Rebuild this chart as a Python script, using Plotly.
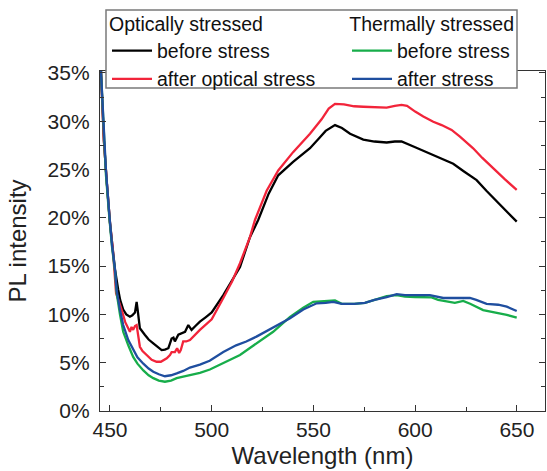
import plotly.graph_objects as go

# ---- data (wavelength in nm, PL intensity in %) ----
wl_black = [445.5, 447, 448.5, 450, 451.5, 452.5, 454, 455, 456.5, 458, 459.8, 461, 462.3, 463.1, 463.6, 464.1,
            464.7, 467.2, 469, 471.3, 473.5, 475.4, 477, 478.7, 479.5, 480.3, 481.2, 481.9, 483.6, 485, 486.9,
            488.5, 490.1, 492, 494.2, 497, 500, 505.7, 510, 513.9, 518.8, 522.9, 528, 532.7, 540, 548.3, 553,
            556, 560.6, 564, 568, 574.5, 580, 586, 590, 593.3, 600, 608.9, 613, 618.7, 624, 630.2, 635, 640,
            645, 649.9]
pl_black = [35.5, 28, 23.5, 19.5, 16.5, 14.6, 12.6, 11.5, 10.5, 10.0, 9.76, 9.9, 10.2, 11.3, 10.5, 9.6,
            8.56, 7.87, 7.4, 7.0, 6.6, 6.3, 6.35, 6.5, 7.0, 7.5, 7.6, 7.2, 7.9, 8.0, 8.2,
            8.9, 8.4, 8.8, 9.25, 9.7, 10.2, 12.0, 13.6, 14.9, 18.0, 19.8, 22.5, 24.4, 25.8, 27.2, 28.3,
            29.0, 29.6, 29.3, 28.7, 28.1, 27.9, 27.8, 27.9, 27.9, 27.3, 26.5, 26.1, 25.6, 24.8, 23.9, 22.8, 21.7,
            20.7, 19.6]

wl_red = [445.5, 447, 448.5, 450, 451.5, 453, 455.7, 457.5, 459.8, 460.6, 461.4, 462.3, 463.1, 463.9, 464.7,
          466, 468, 470.5, 472.9, 475, 477.9, 479.5, 480.3, 481.9, 483, 484, 484.8, 486, 487.5, 489.3, 494.2,
          500, 505.7, 510, 513.9, 518.8, 521.3, 527, 532.7, 540, 548.3, 554, 557.5, 560.6, 565, 570, 574.5,
          580, 586, 590, 593.3, 596, 600, 604, 608.9, 613, 617.9, 622, 628.5, 633, 638.4, 644, 649.9]
pl_red = [35.5, 28, 23.5, 19.5, 16.5, 12.2, 10.5, 9.2, 8.2, 8.7, 8.4, 8.8, 8.9, 7.7, 6.65,
          6.2, 5.8, 5.3, 5.1, 5.1, 5.45, 5.8, 6.1, 6.1, 6.5, 6.0, 6.3, 7.2, 7.2, 7.35, 8.4,
          9.5, 11.7, 13.4, 15.3, 18.0, 19.8, 22.8, 24.9, 26.8, 28.7, 30.2, 31.3, 31.8, 31.75, 31.55, 31.5,
          31.45, 31.4, 31.6, 31.7, 31.6, 31.0, 30.5, 29.95, 29.6, 29.1, 28.4, 27.2, 26.2, 25.1, 24.0, 22.9]

wl_green = [445.5, 446.5, 448, 449.7, 451, 452.5, 453.3, 454.9, 456.5, 459, 461.4, 463.5, 466.4, 469, 471.3,
            474, 477, 480, 482.8, 486, 489.3, 494.2, 499.1, 505, 513.9, 520, 525, 530.2, 538.5, 545, 549.9,
            555, 560.6, 563.9, 570, 575.3, 580, 586, 590.9, 595, 599.9, 608.1, 611.3, 615, 619.5, 623.6, 627,
            633.4, 640, 645, 649.9]
pl_green = [35.5, 30.5, 24.5, 20.0, 17.0, 14.4, 12.2, 10.0, 8.2, 6.8, 5.6, 4.9, 4.2, 3.7, 3.4,
            3.15, 3.03, 3.15, 3.4, 3.55, 3.7, 3.95, 4.3, 4.9, 5.8, 6.7, 7.4, 8.2, 9.75, 10.7, 11.3,
            11.4, 11.45, 11.1, 11.1, 11.2, 11.5, 11.9, 12.0, 11.85, 11.8, 11.77, 11.5, 11.35, 11.2, 11.4, 11.1,
            10.45, 10.2, 9.95, 9.66]

wl_blue = [445.5, 446.5, 448, 449.7, 451, 452.5, 453.3, 454.9, 456.5, 459, 461.4, 463.5, 466.4, 469, 471.3,
           474, 477, 480, 482.8, 486, 489.3, 494.2, 499, 505.7, 512, 517, 522, 530, 538.5, 545, 551.6,
           556, 559.7, 563.9, 570, 575.3, 580, 586, 590.9, 595, 600, 607.2, 613.8, 618, 622, 626.9, 630,
           635.1, 640.8, 645, 649.9]
pl_blue = [35.5, 31, 25, 20.3, 17.2, 14.6, 12.5, 10.5, 8.9, 7.35, 6.3, 5.55, 4.9, 4.4, 4.07,
           3.8, 3.6, 3.7, 3.9, 4.15, 4.5, 4.8, 5.2, 6.1, 6.8, 7.2, 7.7, 8.6, 9.6, 10.5, 11.15,
           11.2, 11.3, 11.1, 11.1, 11.2, 11.5, 11.8, 12.1, 12.0, 12.0, 12.0, 11.7, 11.7, 11.7, 11.7, 11.5,
           11.1, 11.0, 10.8, 10.35]

names = ["before stress", "after optical stress", "before stress", "after stress"]
colors = ["#000000", "#f2243a", "#17ad4a", "#1f4e9f"]
legend_titles = ["Optically stressed", "Thermally stressed"]

FONT = "Liberation Sans, Arial, sans-serif"

fig = go.Figure()
series = [(wl_black, pl_black, "legend"), (wl_red, pl_red, "legend"),
          (wl_green, pl_green, "legend2"), (wl_blue, pl_blue, "legend2")]
for (x, y, lg), nm, c in zip(series, names, colors):
    fig.add_trace(go.Scatter(x=x, y=y, mode="lines", name=nm, legend=lg,
                             line=dict(color=c, width=2.3)))

W, H = 547, 471
ml, mr, mt, mb = 100, 2, 71, 60
pw, ph = W - ml - mr, H - mt - mb

def px_x(p):
    return (p - ml) / pw

def px_y(p):
    return (H - mb - p) / ph

# legend frame (white box covering top frame line)
fig.add_shape(type="rect", xref="paper", yref="paper",
              x0=px_x(106), x1=px_x(517), y0=px_y(88), y1=px_y(10),
              line=dict(color="#7a7a7a", width=1.5), fillcolor="white", layer="above")

axis_common = dict(showline=True, linecolor="#333333", linewidth=1.3, mirror="ticks",
                   ticks="inside", ticklen=6, tickwidth=1.2, tickcolor="#333333",
                   showgrid=False, zeroline=False,
                   tickfont=dict(family=FONT, size=21, color="#222222"))

fig.update_layout(
    width=W, height=H,
    margin=dict(l=ml, r=mr, t=mt, b=mb),
    paper_bgcolor="white", plot_bgcolor="white",
    font=dict(family=FONT, color="#222222"),
    xaxis=dict(range=[445.1, 663.8], dtick=50, tick0=450,
               minor=dict(dtick=25, tick0=450, ticks="inside", ticklen=4, tickcolor="#333333"),
               title=dict(text="Wavelength (nm)", font=dict(family=FONT, size=24), standoff=6),
               **axis_common),
    yaxis=dict(range=[0, 35.2], dtick=5, tick0=0, ticksuffix="%", ticklabelstandoff=5,
               minor=dict(dtick=2.5, ticks="inside", ticklen=4, tickcolor="#333333"),
               title=dict(text="PL intensity", font=dict(family=FONT, size=24), standoff=14),
               **axis_common),
    legend=dict(x=px_x(107), y=px_y(6), xanchor="left", yanchor="top",
                bgcolor="rgba(0,0,0,0)", borderwidth=0,
                title=dict(text=legend_titles[0], font=dict(family=FONT, size=19.5, color="#111111")),
                font=dict(family=FONT, size=19.5, color="#111111"),
                tracegroupgap=0, itemwidth=40),
    legend2=dict(x=px_x(516), y=px_y(6), xanchor="right", yanchor="top",
                 bgcolor="rgba(0,0,0,0)", borderwidth=0,
                 title=dict(text=legend_titles[1], side="top right",
                            font=dict(family=FONT, size=19.5, color="#111111")),
                 font=dict(family=FONT, size=19.5, color="#111111"),
                 tracegroupgap=0, itemwidth=40),
)

fig.write_html("out.html")
